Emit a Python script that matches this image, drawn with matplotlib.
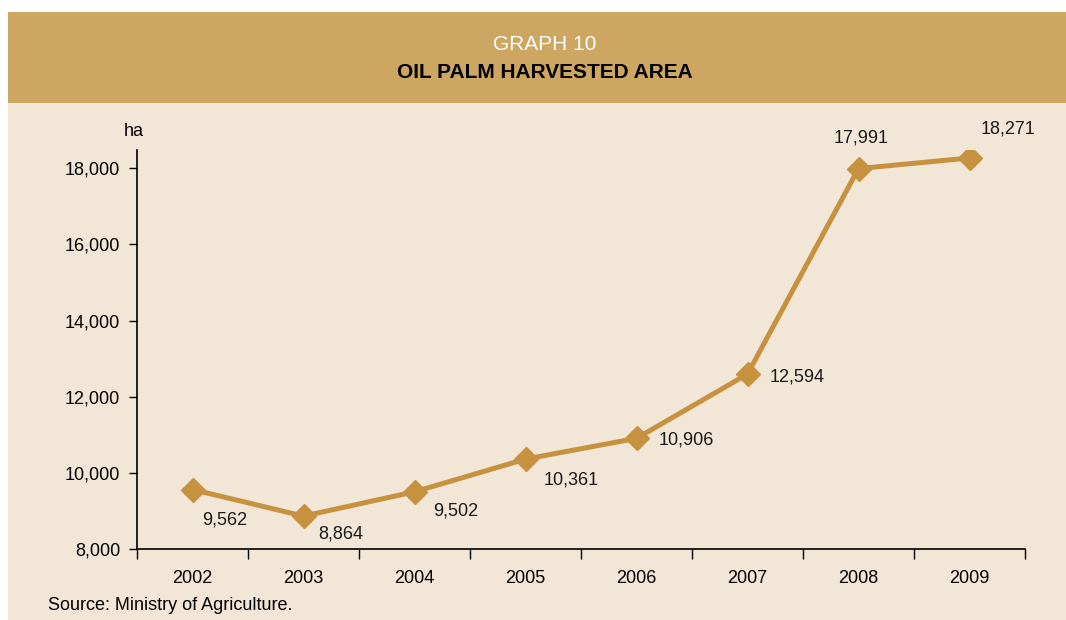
import matplotlib
matplotlib.use("Agg")
import matplotlib.pyplot as plt
from matplotlib.patches import Rectangle
from matplotlib.ticker import FuncFormatter, FixedLocator

plt.rcParams['font.family'] = ['Liberation Sans', 'DejaVu Sans']

years = ['2002', '2003', '2004', '2005', '2006', '2007', '2008', '2009']
area = [9562, 8864, 9502, 10361, 10906, 12594, 17991, 18271]
# label offsets in points (dx, dy) relative to each marker
label_off = [(23, -22), (27, -13), (30, -14), (33, -15), (36, -1), (36, -2), (2, 22), (28, 21)]

gold = '#C6923F'
band = '#CDA662'
paper = '#F2E6D6'

fig = plt.figure(figsize=(10.66, 6.2), dpi=100)
fig.patch.set_facecolor('white')
# page background and title band
fig.patches.append(Rectangle((8/1066, 0), 1, 517/620, transform=fig.transFigure,
                             facecolor=paper, edgecolor='none', zorder=-2))
fig.patches.append(Rectangle((8/1066, 517/620), 1, 91/620, transform=fig.transFigure,
                             facecolor=band, edgecolor='none', zorder=-1))
fig.text(545/1066, 1 - 44/620, 'GRAPH 10', color='white', fontsize=15,
         ha='center', va='center')
fig.text(545/1066, 1 - 72/620, 'OIL PALM HARVESTED AREA', color='black', fontsize=15,
         fontweight='bold', ha='center', va='center')

ax = fig.add_axes([137/1066, 1 - 549/620, 888/1066, 399/620])
ax.set_facecolor('none')
x = list(range(len(years)))
ax.plot(x, area, color=gold, lw=3.6, marker='D', markersize=12.5, zorder=3)
for xi, v, (dx, dy) in zip(x, area, label_off):
    ax.annotate(f'{v:,}', (xi, v), xytext=(dx, dy), textcoords='offset points',
                ha='center', va='center', fontsize=13, color='#1a1a1a')

ax.set_xlim(-0.5, len(years) - 0.5)
ax.set_ylim(8000, 18480)
ax.set_yticks([8000, 10000, 12000, 14000, 16000, 18000])
ax.yaxis.set_major_formatter(FuncFormatter(lambda v, p: f'{int(v):,}'))
ax.set_xticks(x)
ax.set_xticklabels(years)
ax.xaxis.set_minor_locator(FixedLocator([i - 0.5 for i in range(len(years) + 1)]))
ax.tick_params(axis='x', which='major', length=0, pad=15, labelsize=13)
ax.tick_params(axis='x', which='minor', length=7, width=1, direction='out')
ax.tick_params(axis='y', length=6, width=1, labelsize=13, pad=6)
for s in ['top', 'right']:
    ax.spines[s].set_visible(False)
for s in ['left', 'bottom']:
    ax.spines[s].set_linewidth(1.2)

fig.text(134/1066, 1 - 131/620, 'ha', fontsize=13, ha='center', va='center')
fig.text(48/1066, 1 - 606/620, 'Source: Ministry of Agriculture.', fontsize=13,
         ha='left', va='center')

fig.savefig('out.png', dpi=100, facecolor=fig.get_facecolor())
